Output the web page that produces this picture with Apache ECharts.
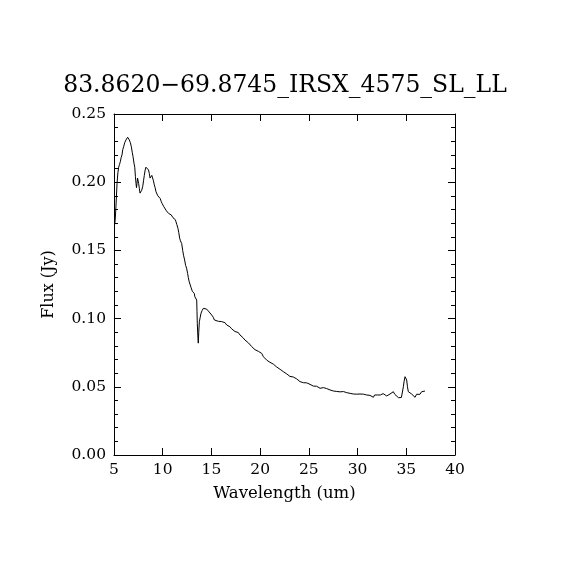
<!doctype html>
<html>
<head>
<meta charset="utf-8">
<script src="https://cdn.jsdelivr.net/npm/echarts@6/dist/echarts.min.js"></script>
<style>
    html, body { margin: 0; padding: 0; background: #fff; }
    #chart { width: 570px; height: 570px; }
</style>
</head>
<body>
<div id="chart"></div>
<script>
    // wavelength (um) and flux (Jy)
    let wave = [
        5.07, 5.12, 5.2, 5.31, 5.4, 5.48, 5.56, 5.65, 5.73, 5.82, 5.9, 5.99, 6.1, 6.23, 6.32, 6.4, 6.5, 6.57, 6.68, 6.78,
        6.87, 6.95, 7.05, 7.13, 7.2, 7.26, 7.31, 7.36, 7.42, 7.46, 7.53, 7.6, 7.67, 7.74, 7.84, 7.95, 8.03, 8.11, 8.2, 8.28,
        8.36, 8.46, 8.54, 8.62, 8.7, 8.8, 8.88, 8.97, 9.05, 9.14, 9.22, 9.31, 9.4, 9.5, 9.59, 9.67, 9.75, 9.84, 9.93, 10.05,
        10.12, 10.2, 10.3, 10.38, 10.44, 10.55, 10.62, 10.68, 10.78, 10.88, 10.96, 11.05, 11.12, 11.22, 11.3, 11.36, 11.45, 11.57, 11.65, 11.74,
        11.82, 11.95, 12.05, 12.15, 12.25, 12.35, 12.45, 12.56, 12.63, 12.72, 12.8, 12.9, 12.97, 13.04, 13.14, 13.24, 13.3, 13.39, 13.49, 13.52,
        13.55, 13.6, 13.65, 13.7, 13.76, 13.85, 13.93, 14.05, 14.17, 14.34, 14.5, 14.69, 14.85, 15.03, 15.19, 15.3, 15.47, 15.71, 15.9, 16.05,
        16.22, 16.39, 16.57, 16.73, 16.9, 17.08, 17.25, 17.42, 17.6, 17.75, 17.93, 18.1, 18.27, 18.44, 18.62, 18.8, 18.96, 19.13, 19.3, 19.47,
        19.65, 19.82, 20.0, 20.16, 20.34, 20.5, 20.68, 20.84, 21.0, 21.18, 21.36, 21.52, 21.7, 21.87, 22.05, 22.2, 22.38, 22.55, 22.72, 22.9,
        23.06, 23.24, 23.4, 23.58, 23.75, 23.92, 24.09, 24.27, 24.44, 24.6, 24.78, 24.95, 25.12, 25.3, 25.47, 25.63, 25.8, 25.97, 26.15, 26.32,
        26.5, 26.66, 26.83, 27.0, 27.17, 27.35, 27.52, 27.7, 27.86, 28.03, 28.2, 28.37, 28.55, 28.72, 28.89, 29.05, 29.23, 29.4, 29.57, 29.75,
        29.92, 30.08, 30.25, 30.42, 30.6, 30.77, 30.94, 31.1, 31.28, 31.45, 31.62, 31.75, 31.89, 32.05, 32.2, 32.35, 32.47, 32.62, 32.8, 32.99,
        33.15, 33.33, 33.5, 33.67, 33.82, 34.02, 34.2, 34.35, 34.5, 34.6, 34.7, 34.77, 34.87, 34.95, 35.04, 35.12, 35.21, 35.38, 35.55, 35.72,
        35.9, 36.05, 36.23, 36.4, 36.58, 36.75, 36.92
    ];
    let flux = [
        0.169, 0.172, 0.182, 0.199, 0.207, 0.211, 0.213, 0.215, 0.218, 0.220, 0.224, 0.226, 0.229, 0.231, 0.230, 0.233, 0.232, 0.231, 0.229, 0.226,
        0.222, 0.219, 0.214, 0.211, 0.204, 0.199, 0.196, 0.197, 0.203, 0.204, 0.199, 0.1955, 0.192, 0.1906, 0.194, 0.197, 0.201, 0.205, 0.209, 0.211,
        0.212, 0.211, 0.209, 0.2065, 0.203, 0.2016, 0.205, 0.204, 0.201, 0.198, 0.196, 0.193, 0.192, 0.190, 0.1894, 0.190, 0.188, 0.186, 0.1845, 0.184,
        0.182, 0.182, 0.181, 0.179, 0.1796, 0.179, 0.177, 0.1784, 0.177, 0.176, 0.1765, 0.174, 0.1742, 0.173, 0.1725, 0.171, 0.169, 0.166, 0.163, 0.159,
        0.157, 0.155, 0.150, 0.146, 0.143, 0.139, 0.137, 0.133, 0.130, 0.127, 0.126, 0.123, 0.122, 0.120, 0.119, 0.1185, 0.116, 0.1149, 0.1136, 0.105,
        0.0966, 0.088, 0.082, 0.090, 0.0977, 0.101, 0.1039, 0.106, 0.1075, 0.1083, 0.107, 0.1055, 0.105, 0.1026, 0.101, 0.099, 0.0985, 0.098, 0.0987, 0.0978,
        0.0968, 0.097, 0.0953, 0.0946, 0.094, 0.0925, 0.0918, 0.0905, 0.0895, 0.0898, 0.088, 0.0866, 0.0858, 0.0843, 0.083, 0.0822, 0.081, 0.0795, 0.0788, 0.0772,
        0.0768, 0.0760, 0.0752, 0.0745, 0.072, 0.071, 0.0695, 0.0684, 0.068, 0.0674, 0.0666, 0.0655, 0.0645, 0.0635, 0.0628, 0.062, 0.0611, 0.0603, 0.0595, 0.0585,
        0.0576, 0.0574, 0.0572, 0.0568, 0.0558, 0.0548, 0.0538, 0.0533, 0.053, 0.0527, 0.0529, 0.0523, 0.0518, 0.0508, 0.0505, 0.0499, 0.0504, 0.0493, 0.0489, 0.0484,
        0.0494, 0.0481, 0.0487, 0.0489, 0.0477, 0.047, 0.0469, 0.0472, 0.0466, 0.0468, 0.0463, 0.0460, 0.0465, 0.0458, 0.0457, 0.0460, 0.0452, 0.0450, 0.0447, 0.0450,
        0.0446, 0.0449, 0.0447, 0.0443, 0.0446, 0.0441, 0.0440, 0.0445, 0.0437, 0.0446, 0.0423, 0.0440, 0.0447, 0.0440, 0.0452, 0.0440, 0.0447, 0.0450, 0.0437, 0.0433,
        0.0445, 0.0447, 0.0452, 0.0464, 0.0445, 0.0433, 0.0420, 0.0415, 0.0422, 0.0430, 0.0500, 0.0537, 0.0574, 0.0568, 0.0550, 0.050, 0.0464, 0.0455, 0.0447, 0.0438,
        0.0423, 0.0445, 0.0450, 0.0445, 0.0464, 0.0460, 0.0469
    ];
    let titleText = '83.8620\u221269.8745_IRSX_4575_SL_LL';

    let pts = [];
    for (let i = 0; i < wave.length; i++) {
        pts.push([wave[i], flux[i]]);
    }

    let font = 'DejaVu Serif';
    let axisLine = {show: true, onZero: false, lineStyle: {color: '#000', width: 1}};
    let tickIn = {show: true, inside: true, length: 7, lineStyle: {color: '#000', width: 1}};
    let minorIn = {show: true, splitNumber: 5, length: 4, lineStyle: {color: '#000', width: 1}};

    let chart = echarts.init(document.getElementById('chart'), null, {renderer: 'canvas'});
    chart.setOption({
        animation: false,
        backgroundColor: '#fff',
        title: {
            text: titleText,
            left: 'center',
            top: 69,
            textStyle: {fontFamily: font, fontWeight: 'normal', fontSize: 23.5, color: '#000'}
        },
        grid: {left: 114, top: 114, width: 341, height: 341, show: false},
        xAxis: [{
            type: 'value', min: 5, max: 40, interval: 5,
            name: 'Wavelength (um)', nameLocation: 'middle', nameGap: 30,
            nameTextStyle: {fontFamily: font, fontSize: 16.5, color: '#000'},
            axisLine: axisLine, axisTick: tickIn,
            axisLabel: {fontFamily: font, fontSize: 15.5, color: '#000', margin: 7},
            splitLine: {show: false}
        }, {
            type: 'value', position: 'top', min: 5, max: 40, interval: 5,
            axisLine: axisLine, axisTick: tickIn,
            axisLabel: {show: false}, splitLine: {show: false}
        }],
        yAxis: [{
            type: 'value', min: 0, max: 0.25, interval: 0.05,
            name: 'Flux (Jy)', nameLocation: 'middle', nameGap: 57,
            nameTextStyle: {fontFamily: font, fontSize: 16, color: '#000'},
            axisLine: axisLine, axisTick: tickIn, minorTick: minorIn,
            axisLabel: {fontFamily: font, fontSize: 15.5, color: '#000', margin: 8,
                formatter: function (v) { return v.toFixed(2); }},
            splitLine: {show: false}
        }, {
            type: 'value', position: 'right', min: 0, max: 0.25, interval: 0.05,
            axisLine: axisLine, axisTick: tickIn, minorTick: minorIn,
            axisLabel: {show: false}, splitLine: {show: false}
        }],
        series: [{
            type: 'line',
            data: pts,
            showSymbol: false,
            symbol: 'none',
            lineStyle: {color: '#000', width: 1},
            xAxisIndex: 0,
            yAxisIndex: 0
        }]
    });
</script>
</body>
</html>
